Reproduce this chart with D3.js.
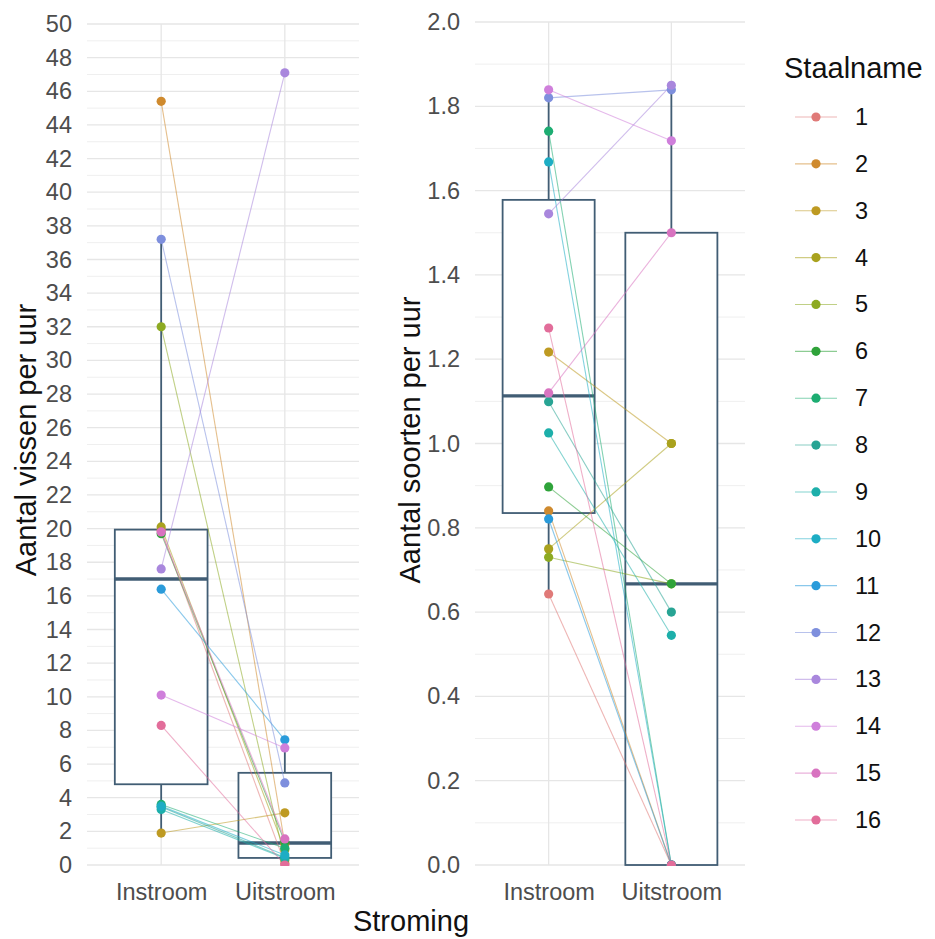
<!DOCTYPE html>
<html>
<head>
<meta charset="utf-8">
<script src="https://cdn.jsdelivr.net/npm/d3@7"></script>
<style>
  html, body { margin: 0; padding: 0; background: #ffffff; }
  svg { display: block; font-family: "Liberation Sans", Arial, sans-serif; }
</style>
</head>
<body>
<svg id="chart" width="935" height="939"></svg>
<script>
// ---------- DATA ----------
const categories = ["Instroom", "Uitstroom"];
const samples = ["1","2","3","4","5","6","7","8","9","10","11","12","13","14","15","16"];
const sampleColors = ["#E07A78","#CF8A2E","#BE9A22","#A9A21E","#8DAA22","#2FA33A","#1DAD72","#28A494",
                      "#1DAFAA","#1DADC4","#2A9BDA","#7E8FDD","#A987DD","#CF7FDB","#D873C0","#E26D9A"];

// Aantal vissen per uur
const vissenIn  = [19.9, 45.4, 1.9, 20.1, 32.0, 19.7, 3.6, 3.45, 3.3, 3.5, 16.4, 37.2, 17.6, 10.1, 19.8, 8.3];
const vissenUit = [0.1, 1.25, 3.1, 0.9, 0.3, 1.37, 1.0, 0.45, 0.4, 0.6, 7.44, 4.88, 47.1, 6.96, 1.55, 0.0];
// box summaries: [lower whisker, Q1, median, Q3, upper whisker]
const vissenBoxIn  = [1.9, 4.8, 17.0, 19.94, 37.2];
const vissenBoxUit = [0.0, 0.42, 1.31, 5.48, 7.44];
const vissenTicks = [0,2,4,6,8,10,12,14,16,18,20,22,24,26,28,30,32,34,36,38,40,42,44,46,48,50];
const vissenMinor = [1,3,5,7,9,11,13,15,17,19,21,23,25,27,29,31,33,35,37,39,41,43,45,47,49];

// Aantal soorten per uur
const soortenIn  = [0.643, 0.84, 1.217, 0.75, 0.73, 0.897, 1.741, 1.099, 1.025, 1.668, 0.821, 1.82, 1.545, 1.839, 1.12, 1.274];
const soortenUit = [0, 0, 1.0, 1.0, 0.667, 0.667, 0, 0.6, 0.545, 0, 0, 1.839, 1.85, 1.718, 1.5, 0];
const soortenBoxIn  = [0.643, 0.835, 1.113, 1.578, 1.839];
const soortenBoxUit = [0, 0, 0.667, 1.5, 1.85];
const soortenTicks = [0,0.2,0.4,0.6,0.8,1.0,1.2,1.4,1.6,1.8,2.0];
const soortenMinor = [0.1,0.3,0.5,0.7,0.9,1.1,1.3,1.5,1.7,1.9];

// ---------- LAYOUT ----------
const svg = d3.select("#chart");
const boxColor = "#415D74";
const gridMajor = "#E6E6E6";
const gridMinor = "#EFEFEF";
const tickFont = 23.5;
const titleFont = 29;

const panels = [
  { id: "p1", x0: 87, x1: 359, yTop: 24, yBot: 865, domain: [0, 50],
    inVals: vissenIn, uitVals: vissenUit, boxes: [vissenBoxIn, vissenBoxUit],
    ticks: vissenTicks, minor: vissenMinor, fmt: d3.format("d"),
    title: "Aantal vissen per uur", titleX: 26 },
  { id: "p2", x0: 475, x1: 745, yTop: 22, yBot: 865, domain: [0, 2],
    inVals: soortenIn, uitVals: soortenUit, boxes: [soortenBoxIn, soortenBoxUit],
    ticks: soortenTicks, minor: soortenMinor, fmt: d3.format(".1f"),
    title: "Aantal soorten per uur", titleX: 410 }
];

panels.forEach(p => {
  const x = d3.scalePoint().domain(categories).range([p.x0, p.x1]).padding(0.6);
  const y = d3.scaleLinear().domain(p.domain).range([p.yBot, p.yTop]);
  const step = x.step();
  const bw = step * 0.75;

  svg.append("clipPath").attr("id", "clip-" + p.id)
    .append("rect").attr("x", p.x0).attr("y", p.yTop - 1)
    .attr("width", p.x1 - p.x0).attr("height", p.yBot - p.yTop + 2);

  const g = svg.append("g");

  g.selectAll(".gmin").data(p.minor).join("line")
    .attr("x1", p.x0).attr("x2", p.x1)
    .attr("y1", d => y(d)).attr("y2", d => y(d))
    .attr("stroke", gridMinor).attr("stroke-width", 1);
  g.selectAll(".gmaj").data(p.ticks).join("line")
    .attr("x1", p.x0).attr("x2", p.x1)
    .attr("y1", d => y(d)).attr("y2", d => y(d))
    .attr("stroke", gridMajor).attr("stroke-width", 1.3);
  g.selectAll(".gx").data(categories).join("line")
    .attr("x1", d => x(d)).attr("x2", d => x(d))
    .attr("y1", p.yTop).attr("y2", p.yBot)
    .attr("stroke", gridMajor).attr("stroke-width", 1.3);

  const yAxis = d3.axisLeft(y).tickValues(p.ticks).tickFormat(p.fmt).tickSize(0).tickPadding(15);
  const ya = svg.append("g").attr("transform", `translate(${p.x0},0)`).call(yAxis);
  ya.select(".domain").remove();
  ya.selectAll("text").attr("font-size", tickFont).attr("fill", "#4D4D4D")
    .attr("font-family", "Liberation Sans, Arial, sans-serif");

  const xAxis = d3.axisBottom(x).tickSize(0).tickPadding(18);
  const xa = svg.append("g").attr("transform", `translate(0,${p.yBot})`).call(xAxis);
  xa.select(".domain").remove();
  xa.selectAll("text").attr("font-size", tickFont).attr("fill", "#4D4D4D")
    .attr("font-family", "Liberation Sans, Arial, sans-serif");

  svg.append("text")
    .attr("transform", `translate(${p.titleX},440) rotate(-90)`)
    .attr("text-anchor", "middle").attr("dominant-baseline", "central")
    .attr("font-size", titleFont).attr("fill", "#111").text(p.title);

  const c = svg.append("g").attr("clip-path", `url(#clip-${p.id})`);

  p.boxes.forEach((b, i) => {
    const cx = x(categories[i]);
    const bg = c.append("g");
    bg.append("line").attr("x1", cx).attr("x2", cx).attr("y1", y(b[3])).attr("y2", y(b[4]))
      .attr("stroke", boxColor).attr("stroke-width", 1.8);
    bg.append("line").attr("x1", cx).attr("x2", cx).attr("y1", y(b[0])).attr("y2", y(b[1]))
      .attr("stroke", boxColor).attr("stroke-width", 1.8);
    bg.append("rect").attr("x", cx - bw / 2).attr("width", bw)
      .attr("y", y(b[3])).attr("height", y(b[1]) - y(b[3]))
      .attr("fill", "#ffffff").attr("stroke", boxColor).attr("stroke-width", 1.8);
    bg.append("line").attr("x1", cx - bw / 2).attr("x2", cx + bw / 2)
      .attr("y1", y(b[2])).attr("y2", y(b[2]))
      .attr("stroke", boxColor).attr("stroke-width", 3.4);
  });

  c.selectAll(".pair").data(samples).join("line")
    .attr("x1", x(categories[0])).attr("x2", x(categories[1]))
    .attr("y1", (d, i) => y(p.inVals[i])).attr("y2", (d, i) => y(p.uitVals[i]))
    .attr("stroke", (d, i) => sampleColors[i]).attr("stroke-opacity", 0.55).attr("stroke-width", 1.1);

  const pts = [];
  samples.forEach((s, i) => {
    pts.push({ cat: categories[0], v: p.inVals[i], i });
    pts.push({ cat: categories[1], v: p.uitVals[i], i });
  });
  c.selectAll(".pt").data(pts).join("circle")
    .attr("cx", d => x(d.cat)).attr("cy", d => y(d.v)).attr("r", 4.6)
    .attr("fill", d => sampleColors[d.i]);
});

svg.append("text").attr("x", 411).attr("y", 931).attr("text-anchor", "middle")
  .attr("font-size", titleFont).attr("fill", "#111").text("Stroming");

const lg = svg.append("g");
lg.append("text").attr("x", 784).attr("y", 78).attr("font-size", titleFont).attr("fill", "#111").text("Staalname");
const ly = d3.scalePoint().domain(samples).range([117, 820]);
const items = lg.selectAll(".li").data(samples).join("g")
  .attr("transform", d => `translate(0,${ly(d)})`);
items.append("line").attr("x1", 795).attr("x2", 837).attr("y1", 0).attr("y2", 0)
  .attr("stroke", (d, i) => sampleColors[i]).attr("stroke-opacity", 0.55).attr("stroke-width", 1.1);
items.append("circle").attr("cx", 816).attr("cy", 0).attr("r", 4.6)
  .attr("fill", (d, i) => sampleColors[i]);
items.append("text").attr("x", 855).attr("y", 0).attr("dominant-baseline", "central")
  .attr("font-size", tickFont).attr("fill", "#111").text(d => d);
</script>
</body>
</html>
